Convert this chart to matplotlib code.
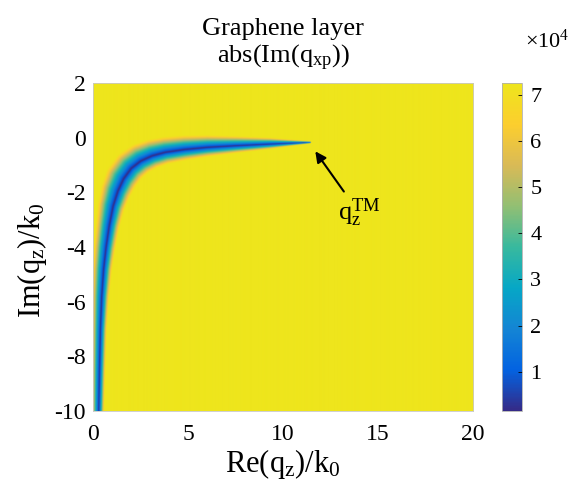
import numpy as np
import matplotlib.pyplot as plt
from matplotlib.colors import LinearSegmentedColormap

plt.rcParams['font.family'] = 'Liberation Serif'
plt.rcParams['mathtext.fontset'] = 'custom'
plt.rcParams['mathtext.rm'] = 'Liberation Serif'
plt.rcParams['mathtext.it'] = 'Liberation Serif:italic'
plt.rcParams['axes.unicode_minus'] = False

# trough of |Im(q_xp)| traced in the complex q_z plane (units of k0)
ridge_re = [0.29, 0.33, 0.38, 0.45, 0.55, 0.68, 0.85, 1.05, 1.3, 1.6,
            2.0, 2.5, 3.1, 3.8, 4.8, 6.0, 7.5, 9.3, 11.4]
ridge_im = [-10.0, -8.5, -7.0, -5.8, -4.8, -4.0, -3.2, -2.5, -1.95, -1.5,
            -1.12, -0.85, -0.66, -0.53, -0.43, -0.35, -0.29, -0.23, -0.17]
# half width of the trough along the ridge, in screen pixels
band_halfwidth = [5.5, 6, 6.5, 7.5, 8.5, 9.5, 10.5, 12, 13.5, 14.5,
                  14.5, 14, 13, 12, 11, 9.5, 7.5, 5, 1]

val_min = 0.15e4
val_max = 7.25e4
cbar_ticks = [1, 2, 3, 4, 5, 6, 7]
x_ticks = [0, 5, 10, 15, 20]
y_ticks = [2, 0, -2, -4, -6, -8, -10]

# marked TM mode
tm_point = (11.7, -0.5)
tm_label_pos = (14.0, -2.75)

# parula-like colormap
parula = LinearSegmentedColormap.from_list('parula', [
    '#352a87', '#0363e1', '#1485d4', '#06a7c6', '#38b99e',
    '#92bf73', '#d9ba56', '#fcce2e', '#eee51c'])

fig = plt.figure(figsize=(5.72, 4.91), dpi=100)
ax = fig.add_axes([93 / 572, 80 / 491, 380 / 572, 328 / 491])
cax = fig.add_axes([502 / 572, 80 / 491, 20 / 572, 328 / 491])

# field on a grid, built from the distance (in pixels) to the traced ridge
sx, sy = 380 / 20, 328 / 12
xs = np.linspace(0, 20, 760)
ys = np.linspace(-10, 2, 656)
X, Y = np.meshgrid(xs, ys)
PX, PY = X * sx, Y * sy
nd = np.full(X.shape, np.inf)
for i in range(len(ridge_re) - 1):
    x0, y0 = ridge_re[i] * sx, ridge_im[i] * sy
    x1, y1 = ridge_re[i + 1] * sx, ridge_im[i + 1] * sy
    dx, dy = x1 - x0, y1 - y0
    t = np.clip(((PX - x0) * dx + (PY - y0) * dy) / (dx * dx + dy * dy), 0, 1)
    cx, cy = x0 + t * dx, y0 + t * dy
    dist = np.hypot(PX - cx, PY - cy)
    w = band_halfwidth[i] + t * (band_halfwidth[i + 1] - band_halfwidth[i])
    outer = (dx * (PY - y0) - dy * (PX - x0)) > 0
    w = np.where(outer, w * 1.3, w)
    nd = np.minimum(nd, dist / w)
field = val_min + (val_max - val_min) * np.clip(nd, 0, 1)

im = ax.imshow(field, origin='lower', extent=[0, 20, -10, 2], aspect='auto',
               cmap=parula, vmin=val_min, vmax=val_max, interpolation='bilinear')
ax.set_xlim(0, 20)
ax.set_ylim(-10, 2)
ax.set_xticks(x_ticks)
ax.set_yticks(y_ticks)
ax.tick_params(axis='x', length=0, labelsize=17, pad=9)
ax.tick_params(axis='y', length=0, labelsize=17, pad=5)
for s in ax.spines.values():
    s.set_color('#c8c8c8')
    s.set_linewidth(0.6)

ax.set_xlabel(r'Re(q$_{\rm z}$)/k$_{\rm 0}$', fontsize=22, labelpad=2)
ax.set_ylabel(r'Im(q$_{\rm z}$)/k$_{\rm 0}$', fontsize=22)
ax.yaxis.set_label_coords(-0.115, 0.46)
ax.set_title('Graphene layer\n' + r'abs(Im(q$_{\rm xp}$))', fontsize=19,
             linespacing=1.15, pad=14)

ax.annotate(r'q$_{\rm z}^{\rm TM}$', xy=tm_point, xytext=tm_label_pos,
            fontsize=19, ha='center', va='center',
            arrowprops=dict(arrowstyle='-|>', color='k', lw=1.5,
                            mutation_scale=16, shrinkA=2, shrinkB=0))

cb = fig.colorbar(im, cax=cax, ticks=[v * 1e4 for v in cbar_ticks])
cb.ax.set_yticklabels([str(v) for v in cbar_ticks])
cb.ax.tick_params(direction='in', length=3, width=0.6, labelsize=16, pad=6)
cb.outline.set_edgecolor('#b0b0b0')
cb.outline.set_linewidth(0.6)
fig.text(525 / 572, 1 - 48 / 491, r'$\times$10$^{\rm 4}$', fontsize=16)

fig.savefig('out.png', dpi=100)
